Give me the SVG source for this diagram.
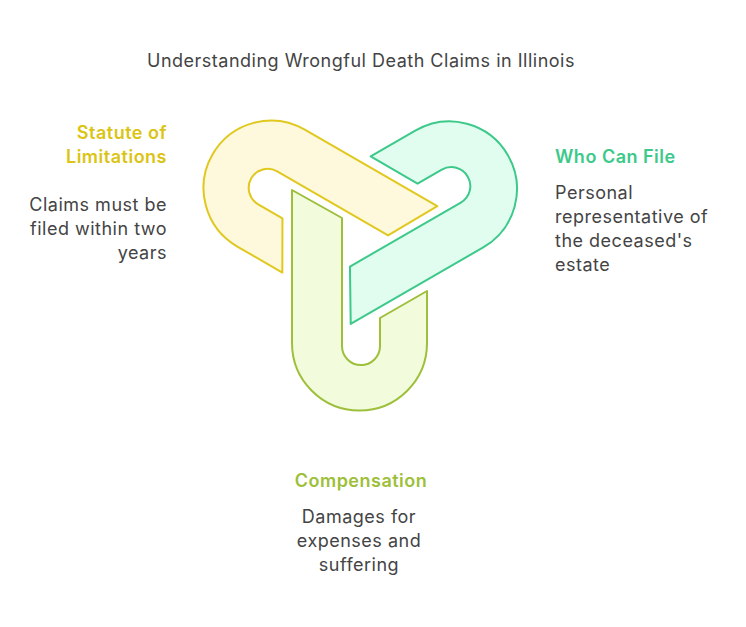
<svg xmlns="http://www.w3.org/2000/svg" width="746" height="627" viewBox="0 0 746 627">
<style>
text{font-family:Inter,"Liberation Sans",sans-serif;font-size:18px;letter-spacing:0.5px;fill:#444}
.h{font-weight:600}
.s{stroke-width:2;stroke-linejoin:round}
</style>
<defs>
<path id="link" d="M292,190 L292,343 A67.5,67.5 0 0 0 427,343 L427,291 L380,318 L380,346 A19,19 0 0 1 342,346 L342,218 Z"/>
</defs>
<rect width="746" height="627" fill="#fff"/>
<text x="361" y="67" text-anchor="middle" style="font-size:18px">Understanding Wrongful Death Claims in Illinois</text>
<g id="compensation-link"><use href="#link" class="s" fill="#f2fcdc" stroke="#9dbf3a"/></g>
<g id="statute-link"><use href="#link" class="s" fill="#fef9dc" stroke="#e0c81f" transform="rotate(120 360 240)"/></g>
<g id="who-link"><use href="#link" class="s" fill="#e0fdf0" stroke="#3cc98a" transform="rotate(240 360 240)"/></g>
<g id="connectors"></g>
<g id="statute">
<text class="h" x="167" y="139" text-anchor="end" style="fill:#dcc414">Statute of</text>
<text class="h" x="167" y="163" text-anchor="end" style="fill:#dcc414">Limitations</text>
<text x="167" y="211" text-anchor="end">Claims must be</text>
<text x="167" y="235" text-anchor="end">filed within two</text>
<text x="167" y="259" text-anchor="end">years</text>
</g>
<g id="who">
<text class="h" x="555" y="163" style="fill:#3cc98a">Who Can File</text>
<text x="555" y="199">Personal</text>
<text x="555" y="223">representative of</text>
<text x="555" y="247">the deceased's</text>
<text x="555" y="271">estate</text>
</g>
<g id="compensation">
<text class="h" x="361" y="487" text-anchor="middle" style="fill:#9dbf3a">Compensation</text>
<text x="359" y="523" text-anchor="middle">Damages for</text>
<text x="359" y="547" text-anchor="middle">expenses and</text>
<text x="359" y="571" text-anchor="middle">suffering</text>
</g>
</svg>
